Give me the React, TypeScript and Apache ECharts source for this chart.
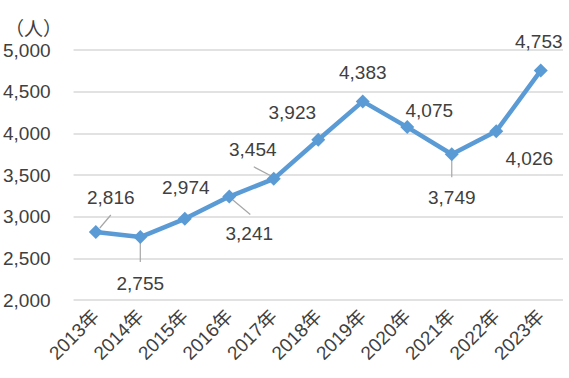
import React, { useEffect, useRef } from "react";
import * as echarts from "echarts";

const categories = ["2013年", "2014年", "2015年", "2016年", "2017年", "2018年", "2019年", "2020年", "2021年", "2022年", "2023年"];
const values = [2816, 2755, 2974, 3241, 3454, 3923, 4383, 4075, 3749, 4026, 4753];
const yTicks = { min: 2000, max: 5000, interval: 500 };

// label placement (pixel offsets from each point)
const labelOffsets: [number, number][] = [
  [15, -35], [0, 46], [1, -31], [20, 37], [-21, -29], [-26, -27], [0, -29], [22, -17], [0, 43], [33, 27], [-2, -29],
];
// leader line segments (start/end offsets from the point), null = none
const leaderSegs: ([number, number, number, number] | null)[] = [
  [4, -4, 15, -17], [0, 4, 0, 25], null, [3, 3, 21, 18], [-3, -3, -20, -12], null, null, null, [0, 4, 0, 23], null, null,
];

const FONT = "'Liberation Sans', 'Noto Sans CJK JP', sans-serif";

export default function App() {
  const ref = useRef<HTMLDivElement>(null);
  useEffect(() => {
    document.body.style.margin = "0";
    const chart = echarts.init(ref.current!, null, { renderer: "svg" });
    chart.setOption({
      animation: false,
      backgroundColor: "#ffffff",
      title: {
        text: "（人）",
        left: 0,
        top: 13,
        textStyle: { fontSize: 19, fontWeight: "normal", color: "#404040", fontFamily: "'Noto Sans CJK JP', sans-serif" },
      },
      grid: { left: 71, right: 6, top: 50, bottom: 78, containLabel: false },
      xAxis: {
        type: "category",
        data: categories,
        boundaryGap: true,
        axisLine: { show: false },
        axisTick: { show: false },
        axisLabel: { rotate: 45, fontSize: 19, color: "#404040", margin: 13, fontFamily: FONT, interval: 0 },
      },
      yAxis: {
        type: "value",
        min: yTicks.min,
        max: yTicks.max,
        interval: yTicks.interval,
        axisLine: { show: false },
        axisTick: { show: false },
        splitLine: { lineStyle: { color: "#d9d9d9", width: 1.5 } },
        axisLabel: {
          fontSize: 19,
          color: "#404040",
          margin: 23,
          fontFamily: FONT,
          formatter: (v: number) => v.toLocaleString("en-US"),
        },
      },
      series: [
        {
          type: "custom",
          z: 1,
          silent: true,
          data: values.map((v, i) => [i, v]),
          renderItem: (params: any, api: any) => {
            const seg = leaderSegs[params.dataIndex];
            if (!seg) return null;
            const p = api.coord([api.value(0), api.value(1)]);
            return {
              type: "line",
              shape: { x1: p[0] + seg[0], y1: p[1] + seg[1], x2: p[0] + seg[2], y2: p[1] + seg[3] },
              style: { stroke: "#a6a6a6", lineWidth: 1.2 },
            };
          },
        },
        {
          type: "line",
          z: 2,
          data: values.map((v, i) => ({
            value: v,
            label: { offset: labelOffsets[i] },
          })),
          lineStyle: { color: "#5b9bd5", width: 4.5 },
          itemStyle: { color: "#5b9bd5" },
          symbol: "diamond",
          symbolSize: 14,
          label: {
            show: true,
            position: "inside",
            fontSize: 19,
            color: "#404040",
            fontFamily: FONT,
            formatter: (p: any) => Number(p.value).toLocaleString("en-US"),
          },
        },
      ],
    });
    return () => chart.dispose();
  }, []);
  return <div ref={ref} style={{ width: 569, height: 378 }} />;
}
